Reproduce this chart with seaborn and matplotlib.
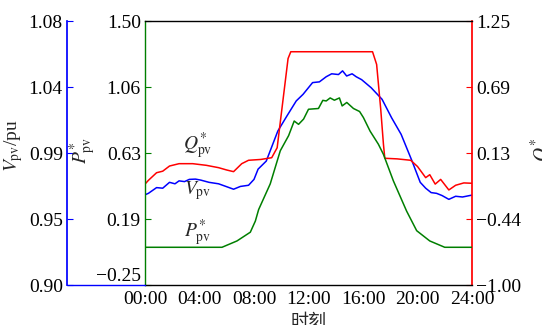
import numpy as np
import pandas as pd
import matplotlib
matplotlib.use("Agg")
import matplotlib.pyplot as plt
from matplotlib.lines import Line2D
import seaborn as sns

# ---------------- data ----------------
p_hours = [0.0, 5.65, 6.75, 7.73, 8.10, 8.34, 9.19, 9.93, 10.54, 10.95, 11.27, 11.64,
           12.0, 12.73, 13.05, 13.3, 13.59, 13.9, 14.27, 14.47, 14.81, 15.3, 15.75,
           16.03, 16.52, 17.13, 17.5, 18.23, 19.2, 19.94, 20.9, 22.0, 24.0]
p_values = [0.0, 0.0, 0.042, 0.10, 0.174, 0.25, 0.42, 0.64, 0.74, 0.837, 0.815, 0.85,
            0.915, 0.92, 0.974, 0.97, 0.99, 0.975, 0.99, 0.937, 0.96, 0.92, 0.90,
            0.86, 0.77, 0.683, 0.616, 0.44, 0.24, 0.11, 0.042, 0.0, 0.0]

v_hours = [0.0, 0.25, 0.85, 1.3, 1.8, 2.2, 2.5, 2.9, 3.25, 3.7, 4.1, 4.7, 5.4, 6.0,
           6.5, 7.0, 7.6, 8.0, 8.3, 8.9, 9.75, 10.4, 11.1, 11.6, 12.3, 12.8, 13.3,
           13.7, 14.2, 14.5, 14.8, 15.2, 15.5, 15.9, 16.6, 17.4, 18.1, 18.8, 19.6,
           20.2, 20.6, 21.0, 21.4, 21.8, 22.3, 22.8, 23.3, 24.0]
v_values = [0.9615, 0.9625, 0.9664, 0.9660, 0.9700, 0.9690, 0.9710, 0.9705, 0.9720,
            0.9722, 0.9715, 0.9700, 0.9690, 0.9670, 0.9653, 0.9672, 0.9680, 0.9720,
            0.9790, 0.9845, 1.0050, 1.0150, 1.0255, 1.0300, 1.0380, 1.0385, 1.0420,
            1.0440, 1.0435, 1.0460, 1.0425, 1.0440, 1.0420, 1.0400, 1.0345, 1.0266,
            1.0140, 1.0027, 0.9845, 0.9700, 0.9660, 0.9630, 0.9625, 0.9610, 0.9584,
            0.9605, 0.9600, 0.9613]

q_hours = [0.0, 0.25, 0.85, 1.3, 1.8, 2.5, 3.5, 4.5, 5.4, 6.0, 6.5, 7.1, 7.6, 8.5,
           9.3, 9.7, 10.1, 10.5, 10.7, 16.7, 17.0, 17.3, 17.5, 17.6, 18.5, 19.5,
           20.0, 20.6, 20.9, 21.3, 21.7, 22.3, 22.8, 23.4, 24.0]
q_values = [-0.14, -0.108, -0.043, -0.03, 0.014, 0.034, 0.034, 0.020, 0.0, -0.02,
            -0.034, 0.034, 0.063, 0.070, 0.085, 0.170, 0.55, 0.93, 0.988, 0.988, 0.88,
            0.50, 0.20, 0.08, 0.075, 0.063, 0.01, -0.085, -0.06, -0.14, -0.10, -0.19,
            -0.15, -0.13, -0.133]

x_ticks = [0, 4, 8, 12, 16, 20, 24]
x_ticklabels = ["00:00", "04:00", "08:00", "12:00", "16:00", "20:00", "24:00"]
v_ticklabels = ["0.90", "0.95", "0.99", "1.04", "1.08"]
p_ticklabels = ["\u22120.25", "0.19", "0.63", "1.06", "1.50"]
q_ticklabels = ["\u22121.00", "\u22120.44", "0.13", "0.69", "1.25"]

# ---------------- style ----------------
sns.set_theme(style="white")
plt.rcParams["font.family"] = ["Liberation Serif", "Noto Sans CJK SC", "DejaVu Sans"]
plt.rcParams["mathtext.fontset"] = "stix"
FS = 14

W, H = 542, 325
fig = plt.figure(figsize=(W / 100, H / 100), dpi=100)
x0, x1 = 145, 472
y_top, y_bot = 21, 285
ax = fig.add_axes([x0 / W, (H - y_bot) / H, (x1 - x0) / W, (y_bot - y_top) / H])

axv = ax.twinx()
axq = ax.twinx()

GREEN = "#007f00"
BLUE = "#0000ff"
RED = "#ff0000"

dfp = pd.DataFrame({"hour": p_hours, "val": p_values})
dfv = pd.DataFrame({"hour": v_hours, "val": v_values})
dfq = pd.DataFrame({"hour": q_hours, "val": q_values})

sns.lineplot(data=dfp, x="hour", y="val", ax=ax, color=GREEN, lw=1.1, legend=False)
sns.lineplot(data=dfv, x="hour", y="val", ax=axv, color=BLUE, lw=1.1, legend=False)
sns.lineplot(data=dfq, x="hour", y="val", ax=axq, color=RED, lw=1.1, legend=False)

ax.set_xlim(0, 24)
ax.set_ylim(-0.25, 1.50)
axv.set_ylim(0.90, 1.08)
axq.set_ylim(-1.00, 1.25)

ax.set_xticks(x_ticks)
ax.set_xticklabels(x_ticklabels, fontsize=FS)
ax.set_xlabel("时刻", fontsize=13, family=["Noto Sans CJK SC"], labelpad=4)

ax.set_yticks(np.linspace(-0.25, 1.50, 5))
ax.set_yticklabels(p_ticklabels, fontsize=FS)
ax.get_yticklabels()[0].set_va("bottom")
axq.set_yticks(np.linspace(-1.00, 1.25, 5))
axq.set_yticklabels(q_ticklabels, fontsize=FS)

ax.set_ylabel(r"$P^{*}_{\mathrm{pv}}$", fontsize=FS)
ax.yaxis.set_label_coords(-0.144, 0.51)
axq.set_ylabel(r"$Q^{*}_{\mathrm{pv}}$", fontsize=FS)
axq.yaxis.set_label_coords(1.172, 0.52)

# spines
for s in ax.spines.values():
    s.set_color("black")
    s.set_linewidth(1.0)
ax.spines["left"].set_color(GREEN)
ax.spines["right"].set_visible(False)

for name, s in axv.spines.items():
    s.set_visible(False)
axv.spines["left"].set_visible(True)
axv.spines["left"].set_color(BLUE)
axv.spines["left"].set_position(("outward", (x0 - 67) * 0.72))
axv.yaxis.set_ticks_position("left")
axv.yaxis.set_label_position("left")
axv.set_yticks(np.linspace(0.90, 1.08, 5))
axv.set_yticklabels(v_ticklabels)
axv.set_ylabel(r"$V_{\mathrm{pv}}$/pu", fontsize=FS)
axv.yaxis.set_label_coords(-0.366, 0.53)

for name, s in axq.spines.items():
    s.set_visible(False)
axq.spines["right"].set_visible(True)
axq.spines["right"].set_color(RED)

ax.tick_params(axis="x", direction="in", length=4, width=0.8, colors="black", pad=4, labelsize=FS)
ax.tick_params(axis="y", direction="in", length=4, width=0.8, color=GREEN, labelcolor="black",
               pad=3, labelsize=FS)
axv.tick_params(axis="y", direction="in", length=4, width=0.8, color=BLUE, labelcolor="black",
                pad=3, labelsize=FS, left=True, right=False, labelleft=True, labelright=False)
axq.tick_params(axis="y", direction="in", length=4, width=0.8, color=RED, labelcolor="black",
                pad=3, labelsize=FS)

# blue bottom segment of the outer V axis
fig.add_artist(Line2D([67 / W, x0 / W], [(H - y_bot) / H] * 2, color=BLUE, lw=1.0,
                      transform=fig.transFigure))

# curve labels
ax.text(3.85, 0.671, r"$Q^{*}_{\mathrm{pv}}$", fontsize=FS, ha="center", va="center")
ax.text(3.85, 0.373, r"$V_{\mathrm{pv}}$", fontsize=FS, ha="center", va="center")
ax.text(3.85, 0.095, r"$P^{*}_{\mathrm{pv}}$", fontsize=FS, ha="center", va="center")

ax.set_zorder(axq.get_zorder() + 1)
ax.patch.set_visible(False)

fig.savefig("out.png", dpi=100)
